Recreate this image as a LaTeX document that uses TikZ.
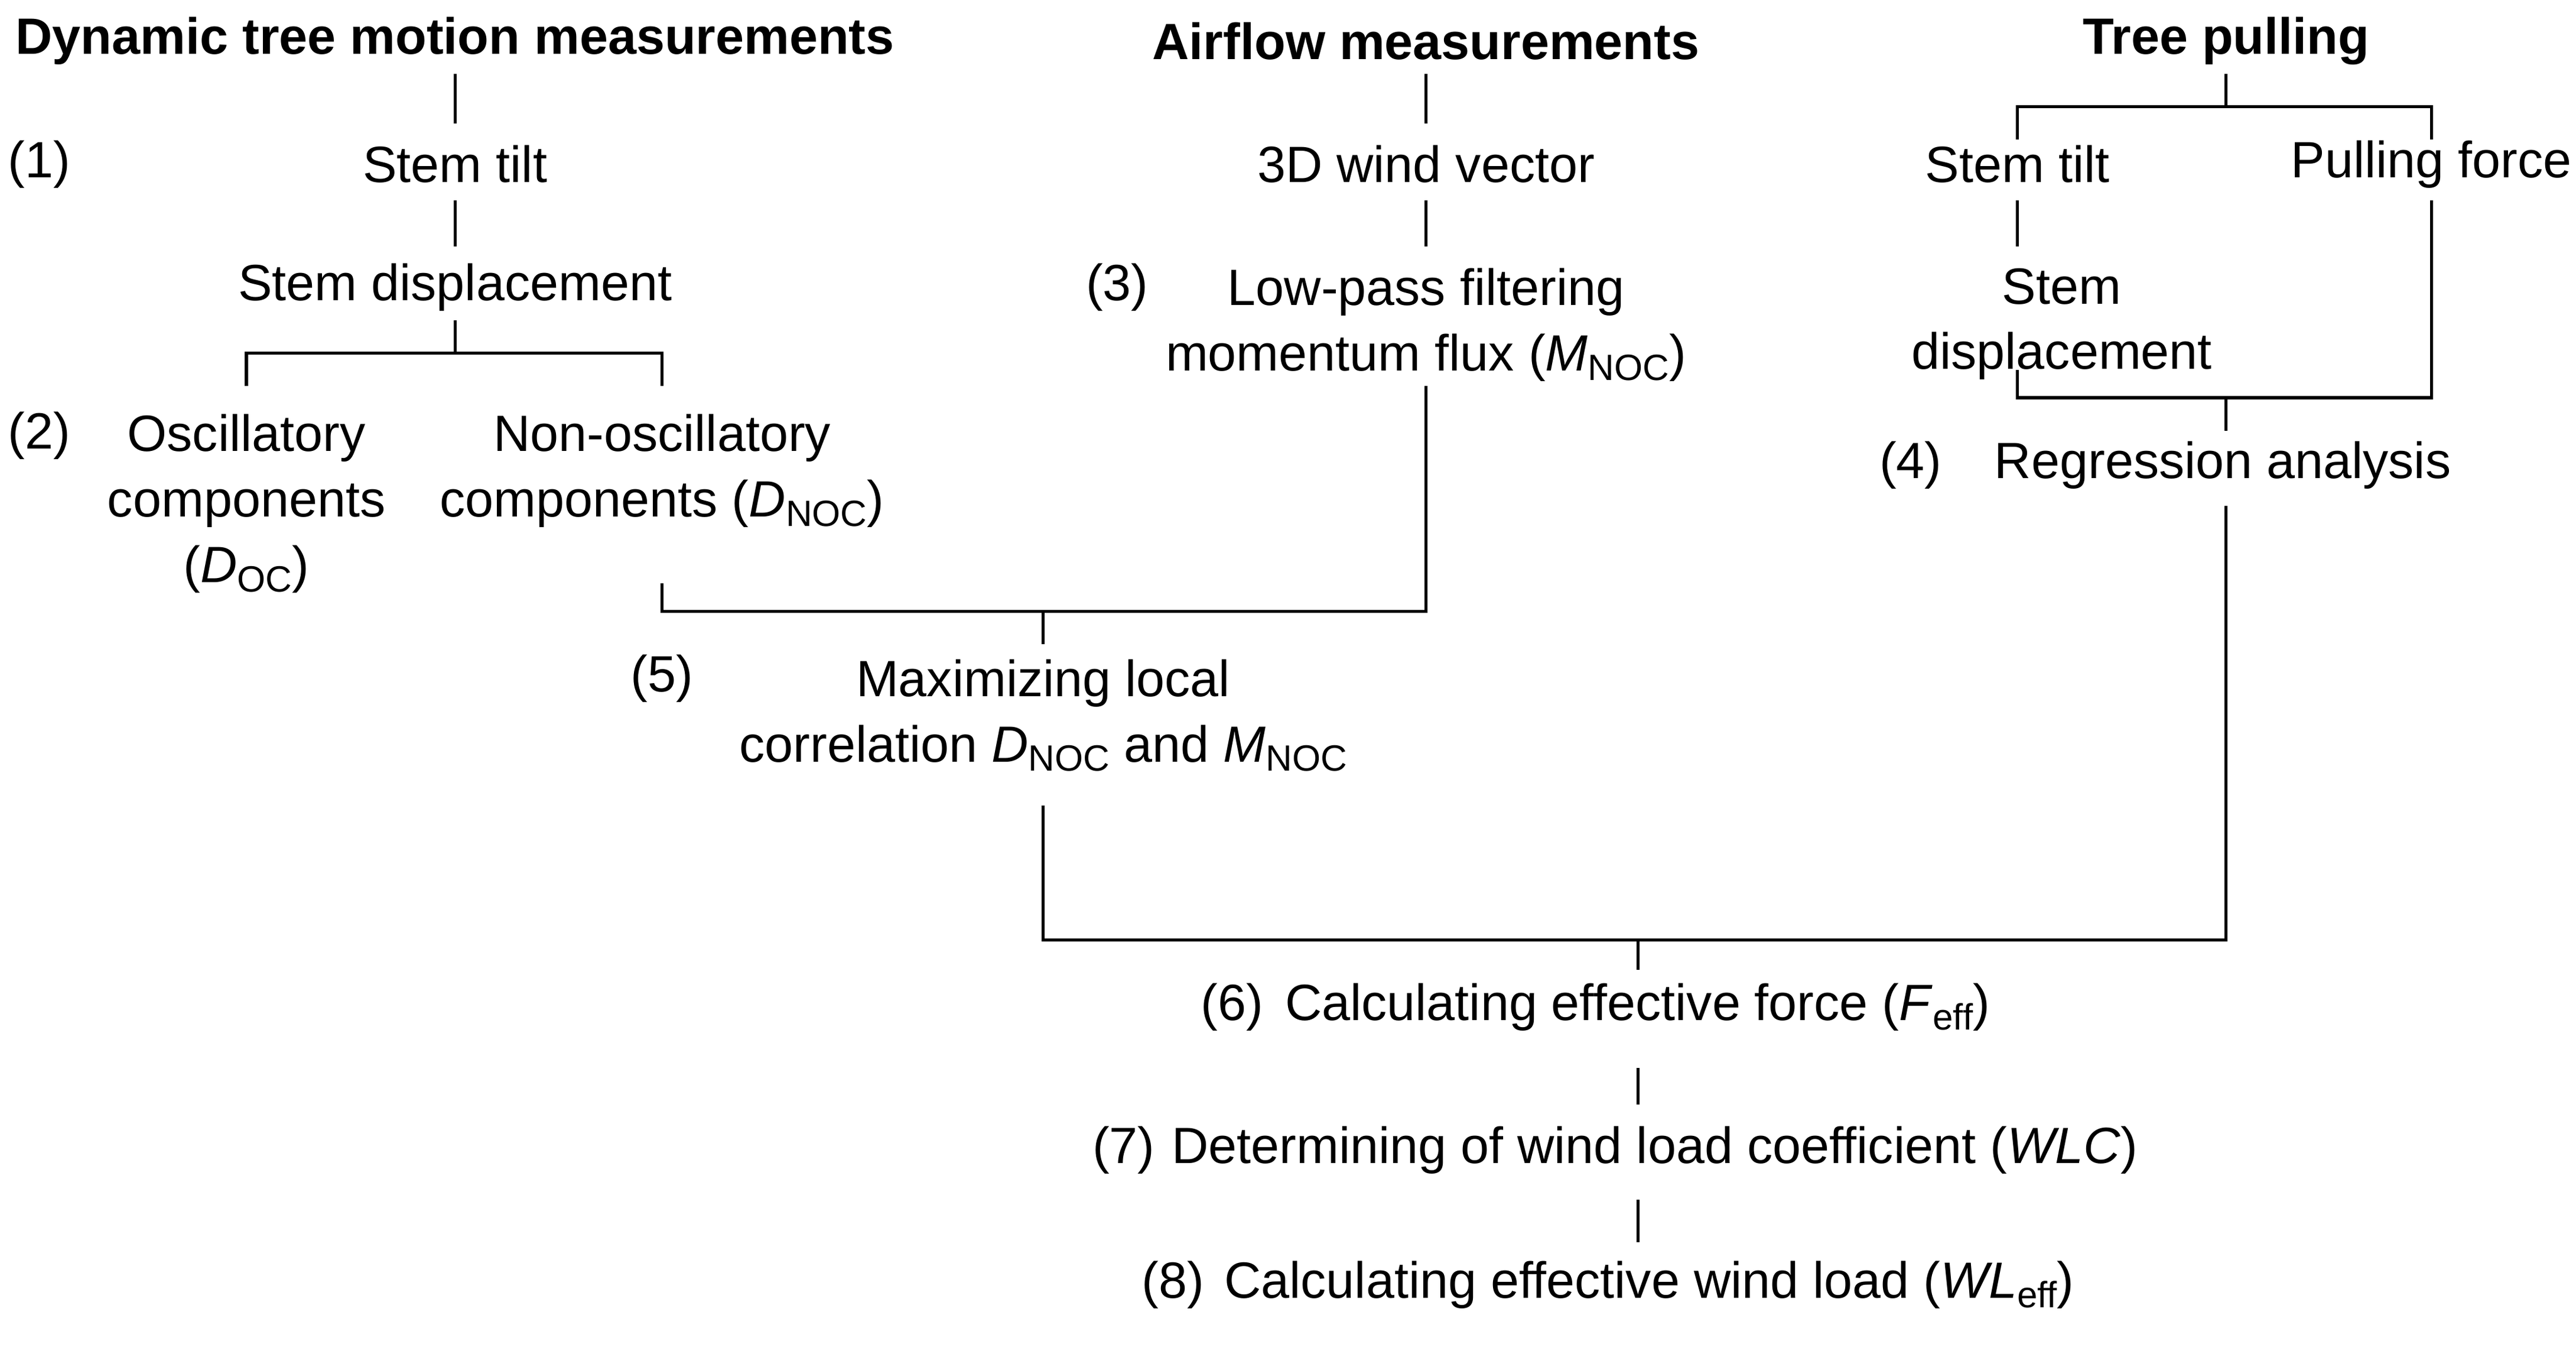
\documentclass[tikz,border=0pt]{standalone}
\usepackage{fontspec}
\setmainfont{Liberation Sans}
\newcommand\lsub[2]{\textit{#1}\raisebox{-0.35ex}{\fontsize{19}{19}\selectfont #2}}
\begin{document}
\begin{tikzpicture}[x=0.3mm,y=-0.3mm,
  t/.style={inner sep=0pt,align=center,font=\fontsize{26.5}{34}\selectfont},
  h/.style={t,font=\fontsize{26.5}{34}\selectfont\bfseries},
  ln/.style={line width=1.6pt}]
\useasboundingbox (0,0) rectangle (1568,822);
% titles
\node[h] (h1) at (277,25) {Dynamic tree motion measurements};
\node[h] (h2) at (868,25) {Airflow measurements};
\node[h] (h3) at (1355,25) {Tree pulling};
% column 1
\node[t] (n1) at (24,100) {(1)};
\node[t] (st1) at (277,100) {Stem tilt};
\node[t] (sd1) at (277,175) {Stem displacement};
\node[t] (n2) at (24,265) {(2)};
\node[t,anchor=north] (oc) at (150,252) {Oscillatory\\components\\(\lsub{D}{OC})};
\node[t,anchor=north] (noc) at (403,252) {Non-oscillatory\\components (\lsub{D}{NOC})};
\draw[ln] (277,45) -- (277,75);
\draw[ln] (277,122) -- (277,150);
\draw[ln] (277,195) -- (277,215);
\draw[ln] (150,235) -- (150,215) -- (403,215) -- (403,235);
% column 2
\node[t] (wv) at (868,100) {3D wind vector};
\node[t] (n3) at (680,175) {(3)};
\node[t,anchor=north] (lp) at (868,163) {Low-pass filtering\\momentum flux (\lsub{M}{NOC})};
\draw[ln] (868,45) -- (868,75);
\draw[ln] (868,122) -- (868,150);
\draw[ln] (403,355) -- (403,372) -- (868,372) -- (868,235);
\draw[ln] (635,372) -- (635,392);
\node[t] (n5) at (403,413) {(5)};
\node[t,anchor=north] (mx) at (635,401) {Maximizing local\\correlation \lsub{D}{NOC} and \lsub{M}{NOC}};
% column 3
\draw[ln] (1355,45) -- (1355,65);
\draw[ln] (1228,85) -- (1228,65) -- (1480,65) -- (1480,85);
\node[t] (st3) at (1228,100) {Stem tilt};
\node[t] (pf) at (1480,100) {Pulling force};
\draw[ln] (1228,122) -- (1228,150);
\node[t,anchor=north] (sd3) at (1255,163) {Stem\\displacement};
\draw[ln] (1228,225) -- (1228,242) -- (1480,242) -- (1480,122);
\draw[ln] (1355,242) -- (1355,262);
\node[t] (n4) at (1163,283) {(4)};
\node[t] (ra) at (1353,283) {Regression analysis};
% bottom
\draw[ln] (635,490) -- (635,572) -- (1355,572) -- (1355,308);
\draw[ln] (997,572) -- (997,590);
\node[t] (n6) at (750,613) {(6)};
\node[t,anchor=west] (fe) at (782,613) {Calculating effective force (\lsub{F}{eff})};
\draw[ln] (997,650) -- (997,672);
\node[t] (n7) at (684,700) {(7)};
\node[t,anchor=west] (wlc) at (713,700) {Determining of wind load coefficient (\textit{WLC})};
\draw[ln] (997,730) -- (997,756);
\node[t] (n8) at (714,782) {(8)};
\node[t,anchor=west] (wl) at (745,782) {Calculating effective wind load (\lsub{WL}{eff})};
\end{tikzpicture}
\end{document}
